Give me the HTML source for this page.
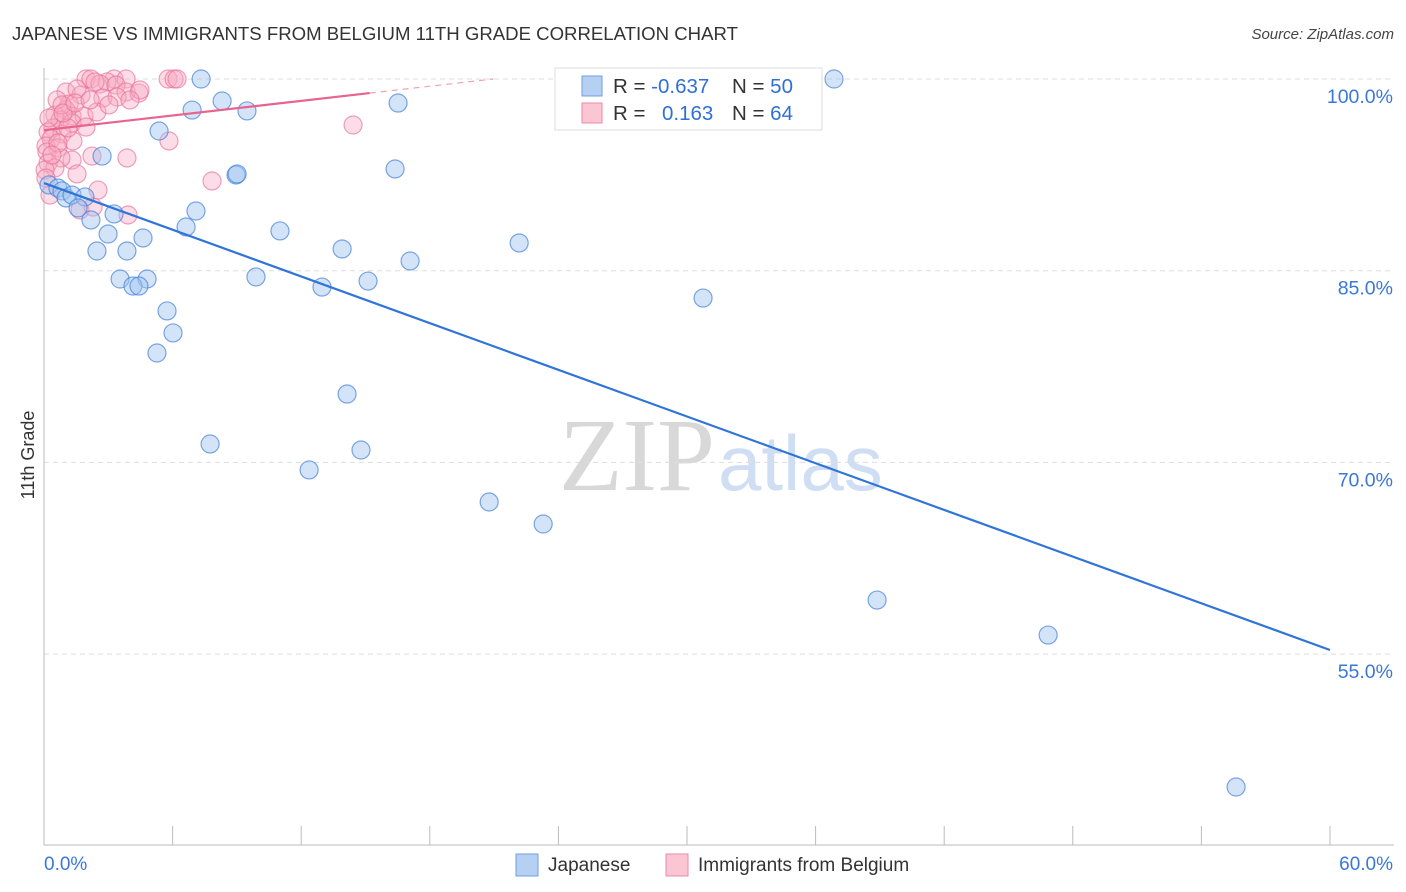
<!DOCTYPE html>
<html><head><meta charset="utf-8"><style>
body{margin:0;background:#fff;font-family:"Liberation Sans",sans-serif;}
svg{display:block}
</style></head><body>
<svg id="chart" width="1406" height="892" xmlns="http://www.w3.org/2000/svg">
<text x="12" y="40" font-size="18.6" fill="#333">JAPANESE VS IMMIGRANTS FROM BELGIUM 11TH GRADE CORRELATION CHART</text>
<text x="1394" y="39" font-size="15" fill="#444" text-anchor="end" font-style="italic">Source: ZipAtlas.com</text>
<text x="715" y="490" font-size="104" fill="#d8d8d8" text-anchor="end" font-family="Liberation Serif,serif">ZIP</text>
<text x="718" y="490" font-size="78" fill="#d0def3">atlas</text>
<text transform="translate(34,455) rotate(-90)" font-size="18" fill="#333" text-anchor="middle">11th Grade</text>
<g id="grid"></g><g id="axes"></g><g id="marks"></g>
<g>
<rect x="555" y="68" width="267" height="62" fill="#fff" stroke="#ddd"/>
<rect x="582" y="76" width="20" height="20" fill="#b5d0f3" stroke="#6f9ee0"/>
<rect x="582" y="103" width="20" height="20" fill="#fbc6d4" stroke="#ee8aa8"/>
<text x="613" y="93" font-size="20.5" fill="#333">R = <tspan fill="#2f6fd6">-0.637</tspan><tspan x="732">N = </tspan><tspan fill="#2f6fd6">50</tspan></text>
<text x="613" y="120" font-size="20.5" fill="#333">R = <tspan x="662" fill="#2f6fd6">0.163</tspan><tspan x="732">N = </tspan><tspan fill="#2f6fd6">64</tspan></text>
</g>
<g>
<rect x="516" y="854" width="22" height="22" fill="#b5d0f3" stroke="#6f9ee0"/>
<text x="548" y="871" font-size="19" fill="#333">Japanese</text>
<rect x="666" y="854" width="22" height="22" fill="#fbc6d4" stroke="#ee8aa8"/>
<text x="698" y="871" font-size="19" fill="#333">Immigrants from Belgium</text>
</g>
</svg>
<script>
const yTicks=[100,85,70,55];
const yTickLabels=["100.0%","85.0%","70.0%","55.0%"];
const xTicks=[0,6,12,18,24,30,36,42,48,54,60];
const xEndLabels=["0.0%","60.0%"];
const blueX=[7.33,36.86,8.31,6.91,16.52,9.47,5.37,2.71,8.96,9.01,16.38,0.23,0.65,0.84,1.03,1.31,1.91,1.59,2.19,3.27,7.09,2.99,6.63,4.62,11.01,2.47,3.87,13.91,22.17,17.08,9.89,3.55,4.81,15.12,4.15,4.43,12.97,30.75,5.74,6.02,5.27,14.14,7.75,14.79,12.37,20.77,23.29,38.87,46.85,55.62];
const blueY=[100,100,98.28,97.57,98.12,97.5,95.93,93.97,92.49,92.57,92.96,91.71,91.47,91.24,90.69,90.92,90.77,89.91,88.97,89.44,89.67,87.87,88.42,87.56,88.11,86.54,86.54,86.7,87.17,85.76,84.51,84.35,84.35,84.19,83.8,83.8,83.72,82.86,81.85,80.13,78.56,75.35,71.44,70.97,69.41,66.9,65.18,59.23,56.49,44.6];
const pinkX=[1.96,2.19,3.27,3.83,5.79,6.07,6.21,2.94,2.61,3.36,1.03,1.73,2.75,3.83,4.43,3.41,1.17,1.03,0.51,1.31,1.87,2.47,0.75,1.31,0.42,0.19,0.84,0.33,1.35,0.09,0.65,0.14,2.24,3.87,1.31,0.79,0.19,0.51,1.54,0.05,2.52,7.84,14.42,5.83,1.68,3.92,0.28,2.29,0.61,0.84,0.23,1.54,2.38,4.48,4.01,0.65,1.12,1.96,0.37,0.09,0.89,1.45,2.15,3.03];
const pinkY=[100,100,100,100,100,100,100,99.77,99.61,99.53,98.98,98.75,98.51,98.98,98.9,98.59,98.04,97.57,97.18,97.1,97.1,97.42,96.79,96.56,96.17,95.85,95.7,95.31,95.15,94.76,94.6,94.29,93.97,93.82,93.66,93.82,93.43,93.04,92.57,92.88,91.31,92.02,96.4,95.15,89.75,89.36,90.92,89.98,98.36,97.97,96.95,99.22,99.77,99.14,98.36,94.99,96.17,96.24,94.05,92.25,97.34,98.12,98.36,97.97];
const blueTrend=[91.86,55.32];
const pinkTrend=[96.0,98.9,15.2];
const NS="http://www.w3.org/2000/svg";
const X=v=>44+v*21.433, Y=v=>79+(100-v)*12.78;
function mk(t,a,p){const e=document.createElementNS(NS,t);for(const k in a)e.setAttribute(k,a[k]);p.appendChild(e);return e;}
const grid=document.getElementById('grid'),axes=document.getElementById('axes'),marks=document.getElementById('marks');
yTicks.forEach((t,i)=>{
 const l=mk('line',{x1:44,x2:1394,y1:Y(t),y2:Y(t),stroke:'#ddd','stroke-dasharray':'5,4'},grid);
 
 
 const tx=mk('text',{x:1393,y:Y(t)+24,'font-size':19.5,fill:'#3a78d8','text-anchor':'end'},axes);
 tx.textContent=yTickLabels[i];
 
 
});
const ax=mk('line',{x1:44,x2:1394,y1:845,y2:845,stroke:'#bbb'},axes);


const ay=mk('line',{x1:44,x2:44,y1:68,y2:845,stroke:'#bbb'},axes);


xTicks.forEach(t=>{
 const l=mk('line',{x1:X(t),x2:X(t),y1:826,y2:845,stroke:'#bbb'},axes);
 
 
});
const xl0=mk('text',{x:44,y:870,'font-size':19,fill:'#3a78d8'},axes);xl0.textContent=xEndLabels[0];


const xl1=mk('text',{x:1393,y:870,'font-size':19,fill:'#3a78d8','text-anchor':'end'},axes);xl1.textContent=xEndLabels[1];


pinkX.forEach((v,i)=>{
 const c=mk('circle',{cx:X(v),cy:Y(pinkY[i]),r:9,fill:'rgba(248,170,194,0.4)',stroke:'rgba(232,110,150,0.65)','stroke-width':1.2},marks);
 
 
});
blueX.forEach((v,i)=>{
 const c=mk('circle',{cx:X(v),cy:Y(blueY[i]),r:9,fill:'rgba(160,196,240,0.45)',stroke:'rgba(70,130,215,0.7)','stroke-width':1.2},marks);
 
 
});
const bt=mk('line',{x1:X(0),y1:Y(blueTrend[0]),x2:X(60),y2:Y(blueTrend[1]),stroke:'#2f74d8','stroke-width':2.2},marks);


const slope=(pinkTrend[1]-pinkTrend[0])/pinkTrend[2];
const pt=mk('line',{x1:X(0),y1:Y(pinkTrend[0]),x2:X(pinkTrend[2]),y2:Y(pinkTrend[1]),stroke:'#e8638e','stroke-width':2.2},marks);


const xe=(100-pinkTrend[0])/slope;
const pd=mk('line',{x1:X(pinkTrend[2]),y1:Y(pinkTrend[1]),x2:X(xe),y2:Y(100),stroke:'#f0a0b8','stroke-width':1.2,'stroke-dasharray':'6,5'},marks);


</script>
</body></html>
